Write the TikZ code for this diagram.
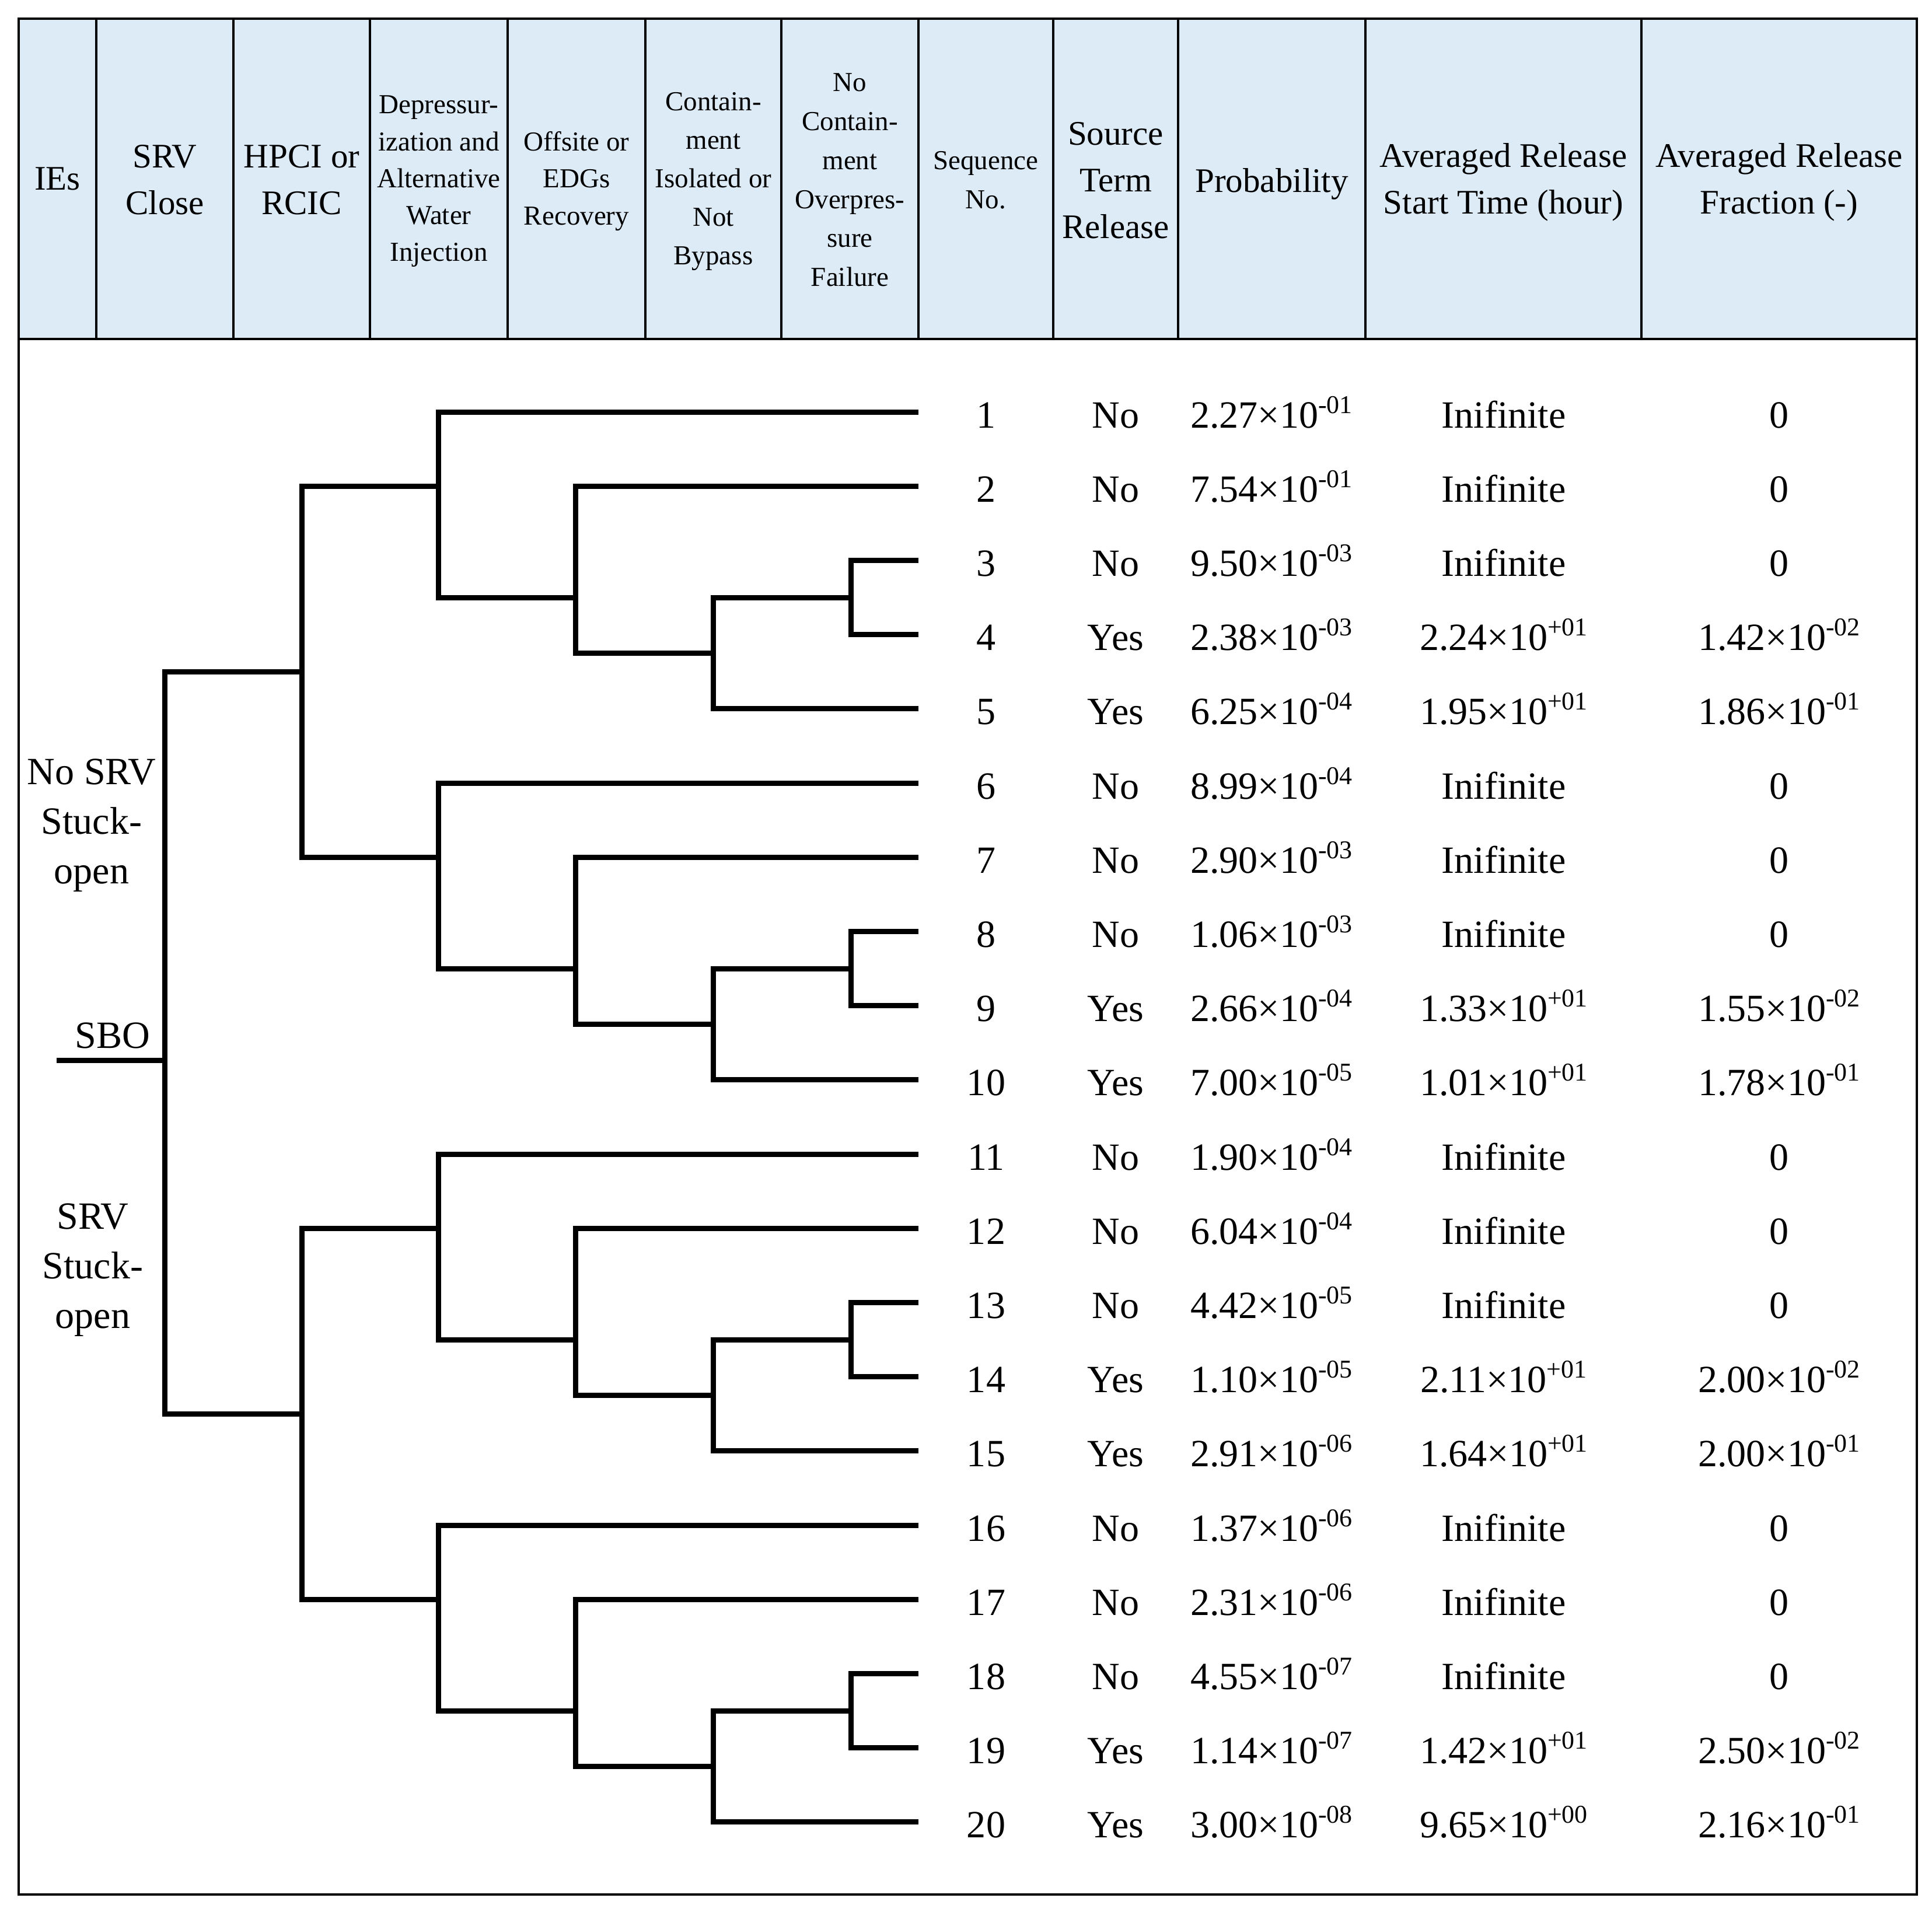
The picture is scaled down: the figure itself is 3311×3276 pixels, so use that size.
\documentclass[tikz,border=0pt]{standalone}
\usepackage{fontspec}
\setmainfont{Liberation Serif}
\definecolor{hdrblue}{RGB}{221,235,247}
\newcommand{\sci}[2]{#1×10\raisebox{2.5mm}{\fontsize{12.5pt}{12.5pt}\selectfont #2}}
\begin{document}
\begin{tikzpicture}[x=0.1mm,y=-0.1mm,
  frame/.style={line width=0.4mm},
  tree/.style={line width=0.9mm, line join=miter},
  hdrL/.style={inner sep=0pt, align=center, font=\fontsize{16.8pt}{22.76pt}\selectfont},
  hdrS/.style={inner sep=0pt, align=center, font=\fontsize{13.37pt}{18.8pt}\selectfont},
  cell/.style={inner sep=0pt, anchor=base, font=\fontsize{18.8pt}{24.2pt}\selectfont},
  lbl/.style={inner sep=0pt, align=center, font=\fontsize{18.8pt}{24.2pt}\selectfont}]
\useasboundingbox (0,0) rectangle (3311,3276);
% header background and grid
\fill[hdrblue] (32,32) rectangle (3285,581);
\foreach \x in {165,400,634,870,1106,1339,1574,1805,2019,2340,2813}
  \draw[frame] (\x,32) -- (\x,581);
\draw[frame] (32,581) -- (3285,581);
\draw[frame] (32,32) rectangle (3285,3247);
% header texts
\node[hdrL] (hIE) at (98.5,306.5) {IEs};
\node[hdrL] (hSRV) at (282.5,308) {SRV\\Close};
\node[hdrL] (hHPCI) at (517,308) {HPCI or\\RCIC};
\node[hdrS, font=\fontsize{13.37pt}{18pt}\selectfont] (hDep) at (752,311) {Depressur-\\ization and\\Alternative\\Water\\Injection};
\node[hdrS, font=\fontsize{13.37pt}{18.07pt}\selectfont] (hOff) at (988,310.5) {Offsite or\\EDGs\\Recovery};
\node[hdrS] (hCont) at (1222.5,311) {Contain-\\ment\\Isolated or\\Not\\Bypass};
\node[hdrS, font=\fontsize{13.37pt}{19pt}\selectfont] (hNoCont) at (1456.5,308.5) {No\\Contain-\\ment\\Overpres-\\sure\\Failure};
\node[hdrS, font=\fontsize{13.37pt}{19.06pt}\selectfont] (hSeq) at (1689.5,308.5) {Sequence\\No.};
\node[hdrL] (hSrc) at (1912,309) {Source\\Term\\Release};
\node[hdrL] (hProb) at (2179.5,315.5) {Probability};
\node[hdrL] (hTime) at (2576.5,312.5) {Averaged Release\\Start Time (hour)};
\node[hdrL] (hFrac) at (3049,312.5) {Averaged Release\\Fraction (-)};
% row texts
\foreach \i/\sr/\pr/\tm/\fr in {
 1/No/\sci{2.27}{-01}/Inifinite/0,
 2/No/\sci{7.54}{-01}/Inifinite/0,
 3/No/\sci{9.50}{-03}/Inifinite/0,
 4/Yes/\sci{2.38}{-03}/\sci{2.24}{+01}/\sci{1.42}{-02},
 5/Yes/\sci{6.25}{-04}/\sci{1.95}{+01}/\sci{1.86}{-01},
 6/No/\sci{8.99}{-04}/Inifinite/0,
 7/No/\sci{2.90}{-03}/Inifinite/0,
 8/No/\sci{1.06}{-03}/Inifinite/0,
 9/Yes/\sci{2.66}{-04}/\sci{1.33}{+01}/\sci{1.55}{-02},
 10/Yes/\sci{7.00}{-05}/\sci{1.01}{+01}/\sci{1.78}{-01},
 11/No/\sci{1.90}{-04}/Inifinite/0,
 12/No/\sci{6.04}{-04}/Inifinite/0,
 13/No/\sci{4.42}{-05}/Inifinite/0,
 14/Yes/\sci{1.10}{-05}/\sci{2.11}{+01}/\sci{2.00}{-02},
 15/Yes/\sci{2.91}{-06}/\sci{1.64}{+01}/\sci{2.00}{-01},
 16/No/\sci{1.37}{-06}/Inifinite/0,
 17/No/\sci{2.31}{-06}/Inifinite/0,
 18/No/\sci{4.55}{-07}/Inifinite/0,
 19/Yes/\sci{1.14}{-07}/\sci{1.42}{+01}/\sci{2.50}{-02},
 20/Yes/\sci{3.00}{-08}/\sci{9.65}{+00}/\sci{2.16}{-01}} {
  \pgfmathsetmacro\yb{706+(\i-1)*127.2+27}
  \node[cell] (seq\i) at (1690,\yb) {\i};
  \node[cell] (src\i) at (1912,\yb) {\sr};
  \node[cell] (prob\i) at (2179,\yb) {\pr};
  \node[cell] (time\i) at (2577,\yb) {\tm};
  \node[cell] (frac\i) at (3049,\yb) {\fr};
}
% event tree
\foreach \i in {1,...,20}
  \coordinate (e\i) at (1574,{706+(\i-1)*127.2});
\foreach \g in {0,1,2,3} {
  \pgfmathsetmacro\yt{706+5*\g*127.2}
  \coordinate (n6-\g) at (1458,{\yt+2.5*127.2});
  \coordinate (n5-\g) at (1222,{\yt+3.25*127.2});
  \coordinate (n4-\g) at (986,{\yt+2.5*127.2});
  \coordinate (n3-\g) at (751,{\yt+127.2});
  \pgfmathtruncatemacro\ea{5*\g+1}
  \pgfmathtruncatemacro\eb{5*\g+2}
  \pgfmathtruncatemacro\ec{5*\g+3}
  \pgfmathtruncatemacro\ed{5*\g+4}
  \pgfmathtruncatemacro\ee{5*\g+5}
  \draw[tree] (e\ec) -| (n6-\g) |- (e\ed);
  \draw[tree] (n6-\g) -| (n5-\g) |- (e\ee);
  \draw[tree] (e\eb) -| (n4-\g) |- (n5-\g);
  \draw[tree] (e\ea) -| (n3-\g) |- (n4-\g);
}
\coordinate (mA) at (517,{706+3.5*127.2});
\coordinate (mB) at (517,{706+13.5*127.2});
\coordinate (root) at (282,1817);
\coordinate (sbo) at (97,1817);
\draw[tree] (n3-0) -| (mA) |- (n3-1);
\draw[tree] (n3-2) -| (mB) |- (n3-3);
\draw[tree] (mA) -| (root) |- (mB);
\draw[tree] (sbo) -- (root);
% left labels
\node[lbl] (noSRV) at (157,1415) {No SRV\\Stuck-\\open};
\node[lbl] (SRVso) at (159,2177) {SRV\\Stuck-\\open};
\node[cell] (SBO) at (193,1796) {SBO};
\end{tikzpicture}
\end{document}
